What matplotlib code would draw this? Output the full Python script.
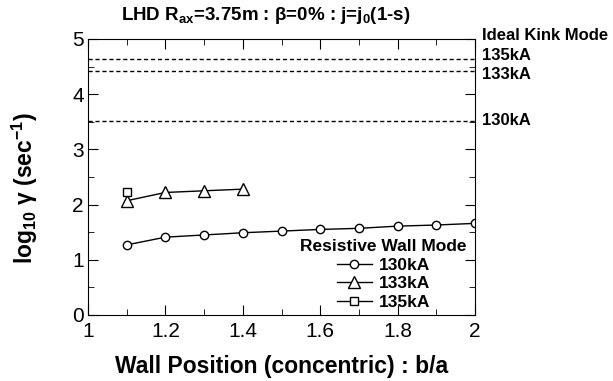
import numpy as np
import matplotlib
matplotlib.use("Agg")
import matplotlib.pyplot as plt
from matplotlib.ticker import MultipleLocator

plt.rcParams['font.family'] = ['Liberation Sans', 'DejaVu Sans']
plt.rcParams['mathtext.default'] = 'regular'

# resistive wall mode growth rates
b_a_130 = [1.1, 1.2, 1.3, 1.4, 1.5, 1.6, 1.7, 1.8, 1.9, 2.0]
g_130 = [1.27, 1.41, 1.45, 1.49, 1.52, 1.55, 1.57, 1.61, 1.63, 1.66]
b_a_133 = [1.1, 1.2, 1.3, 1.4]
g_133 = [2.07, 2.22, 2.25, 2.28]
b_a_135 = [1.1]
g_135 = [2.23]

# ideal kink mode levels
kink_labels = ['135kA', '133kA', '130kA']
kink_vals = [4.63, 4.42, 3.52]

fig = plt.figure(figsize=(6.13, 3.81), dpi=100)
ax = fig.add_axes([88 / 613, 66 / 381, 387 / 613, 276 / 381])

for v in kink_vals:
    ax.axhline(v, color='k', ls=(0, (3, 2)), lw=1.0)

ax.plot(b_a_130, g_130, '-o', color='k', mfc='white', ms=6, lw=1.0, label='130kA')
ax.plot(b_a_133, g_133, '-^', color='k', mfc='white', ms=8, lw=1.0, label='133kA')
ax.plot(b_a_135, g_135, '-s', color='k', mfc='white', ms=5.5, lw=1.0, label='135kA')

ax.set_xlim(1, 2)
ax.set_ylim(0, 5)
ax.set_xticks([1, 1.2, 1.4, 1.6, 1.8, 2])
ax.set_xticklabels(['1', '1.2', '1.4', '1.6', '1.8', '2'])
ax.set_yticks([0, 1, 2, 3, 4, 5])
ax.set_yticklabels(['0', '1', '2', '3', '4', '5'])
ax.xaxis.set_minor_locator(MultipleLocator(0.1))
ax.yaxis.set_minor_locator(MultipleLocator(0.5))
ax.tick_params(which='both', direction='in', top=True, right=True, labelsize=15)
ax.tick_params(axis='x', pad=5)
ax.tick_params(axis='y', pad=3)
ax.tick_params(which='major', length=7)
ax.tick_params(which='minor', length=4)

ax.set_xlabel('Wall Position (concentric) : b/a', fontsize=16.5, fontweight='bold')
ax.xaxis.set_label_coords(0.5, -0.145)
ax.set_ylabel(r'log$_{10}$ γ (sec$^{-1}$)', fontsize=16.5, fontweight='bold')
ax.yaxis.set_label_coords(-0.124, 0.46)
fig.text(265.5 / 613, 1 - 15 / 381, r'LHD R$_{ax}$=3.75m : β=0% : j=j$_0$(1-s)',
         fontsize=13.5, fontweight='bold', ha='center', va='center')

ax.text(1.018, 5.07, 'Ideal Kink Mode', transform=ax.get_yaxis_transform(),
        fontsize=12, fontweight='bold', va='center', ha='left')
label_y = [4.71, 4.35, 3.53]
for lab, yy in zip(kink_labels, label_y):
    ax.text(1.018, yy, lab, transform=ax.get_yaxis_transform(),
            fontsize=12, fontweight='bold', va='center', ha='left')

leg = ax.legend(loc='lower right', frameon=False, title='Resistive Wall Mode',
                prop={'weight': 'bold', 'size': 12.5}, handlelength=2.0,
                borderaxespad=0.0, labelspacing=0.2, handletextpad=0.45,
                borderpad=0.0, bbox_to_anchor=(1 - 8 / 387, 5 / 276))
leg.get_title().set_fontweight('bold')
leg.get_title().set_fontsize(12.5)

fig.savefig('out.png', dpi=100)
